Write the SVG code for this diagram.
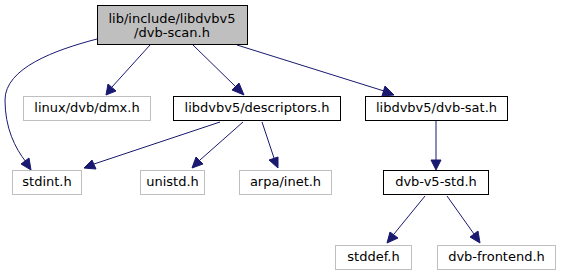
<svg xmlns="http://www.w3.org/2000/svg" width="561" height="276" viewBox="0 0 561 276">
<style>
.n rect{fill:#ffffff;stroke:#000000;stroke-width:1}
.g rect{fill:#ffffff;stroke:#bfbfbf;stroke-width:1}
.r rect{fill:#bfbfbf;stroke:#000000;stroke-width:1}
text{font-family:"DejaVu Sans",sans-serif;font-size:13px;text-anchor:middle;fill:#000}
.e path{fill:none;stroke:#191970;stroke-width:1}
.e polygon{fill:#191970;stroke:#191970;stroke-width:1}
</style>
<rect width="561" height="276" fill="#ffffff"/>
<g class="e" id="edges">
<path d="M150,45 L112,87"/><polygon points="106,95 108,84 116,91"/>
<path d="M193,45 L236,87"/><polygon points="244,95 232,90 239,83"/>
<path d="M237,45 L384,91"/><polygon points="394,95 382,96 385,86"/>
<path d="M97,39 C55,50 5,68 5,100 C5,128 15,148 26,162"/><polygon points="31,170 21,164 29,158"/>
<path d="M220,122 L94,164"/><polygon points="84,168 92,160 96,169"/>
<path d="M243,122 L200,160"/><polygon points="192,168 196,157 203,164"/>
<path d="M262,122 L274,158"/><polygon points="278,168 269,160 278,157"/>
<path d="M436,121 L436,160"/><polygon points="436,170 431,160 441,160"/>
<path d="M425,196 L394,234"/><polygon points="387,243 390,232 398,238"/>
<path d="M447,196 L474,234"/><polygon points="480,243 470,237 478,231"/>
</g>
<g id="root" class="r"><rect x="97.5" y="5.5" width="150" height="39"/><text x="172" y="23">lib/include/libdvbv5</text><text x="172" y="37">/dvb-scan.h</text></g>
<g id="dmx" class="g"><rect x="23.5" y="96.5" width="127" height="24"/><text x="87" y="112">linux/dvb/dmx.h</text></g>
<g id="descriptors" class="n"><rect x="173.5" y="96.5" width="167" height="24"/><text x="257" y="112">libdvbv5/descriptors.h</text></g>
<g id="dvbsat" class="n"><rect x="365.5" y="96.5" width="142" height="24"/><text x="436.5" y="112">libdvbv5/dvb-sat.h</text></g>
<g id="stdint" class="g"><rect x="12.5" y="170.5" width="69" height="24"/><text x="47" y="186">stdint.h</text></g>
<g id="unistd" class="g"><rect x="140.5" y="170.5" width="64" height="24"/><text x="172.5" y="186">unistd.h</text></g>
<g id="arpa" class="g"><rect x="239.5" y="170.5" width="92" height="24"/><text x="285.5" y="186">arpa/inet.h</text></g>
<g id="v5std" class="n"><rect x="383.5" y="170.5" width="105" height="24"/><text x="436" y="186">dvb-v5-std.h</text></g>
<g id="stddef" class="g"><rect x="335.5" y="245.5" width="76" height="24"/><text x="373.5" y="261">stddef.h</text></g>
<g id="frontend" class="g"><rect x="437.5" y="245.5" width="118" height="24"/><text x="496.5" y="261">dvb-frontend.h</text></g>
</svg>
